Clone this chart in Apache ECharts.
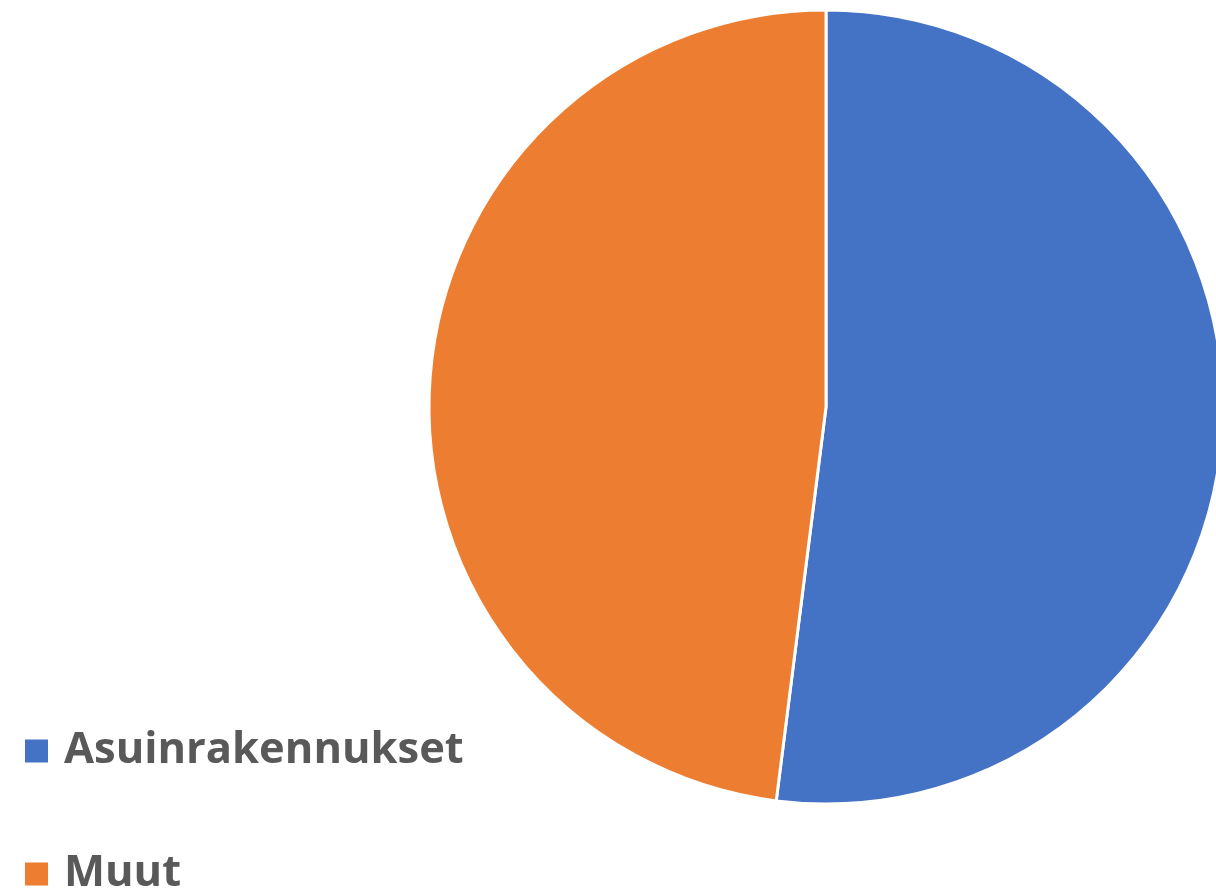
<!DOCTYPE html>
<html>
<head>
<meta charset="utf-8">
<script src="https://cdn.jsdelivr.net/npm/echarts@6/dist/echarts.min.js"></script>
<style>html,body{margin:0;padding:0;background:#fff;}#c{width:1216px;height:892px;}</style>
</head>
<body>
<div id="c"></div>
<script>
const categories = ['Asuinrakennukset', 'Muut'];
const values = [52, 48];
const colors = ['#4472C4', '#ED7D31'];

const legendTops = [729, 852];
const chart = echarts.init(document.getElementById('c'));
chart.setOption({
  animation: false,
  legend: categories.map((n, i) => ({
    orient: 'vertical',
    left: 23,
    top: legendTops[i],
    padding: 0,
    itemWidth: 25,
    itemHeight: 25,
    icon: 'rect',
    textStyle: {
      fontFamily: 'Open Sans',
      fontWeight: 'bold',
      fontSize: 43.5,
      color: '#595959',
      lineHeight: 25,
      padding: [0, 0, 0, 10]
    },
    data: [n]
  })),
  series: [{
    type: 'pie',
    center: [826, 407],
    radius: 397,
    startAngle: 90,
    clockwise: true,
    label: { show: false },
    labelLine: { show: false },
    itemStyle: { borderColor: '#fff', borderWidth: 3 },
    emphasis: { disabled: true },
    data: categories.map((n, i) => ({ name: n, value: values[i], itemStyle: { color: colors[i] } }))
  }]
});
</script>
</body>
</html>
